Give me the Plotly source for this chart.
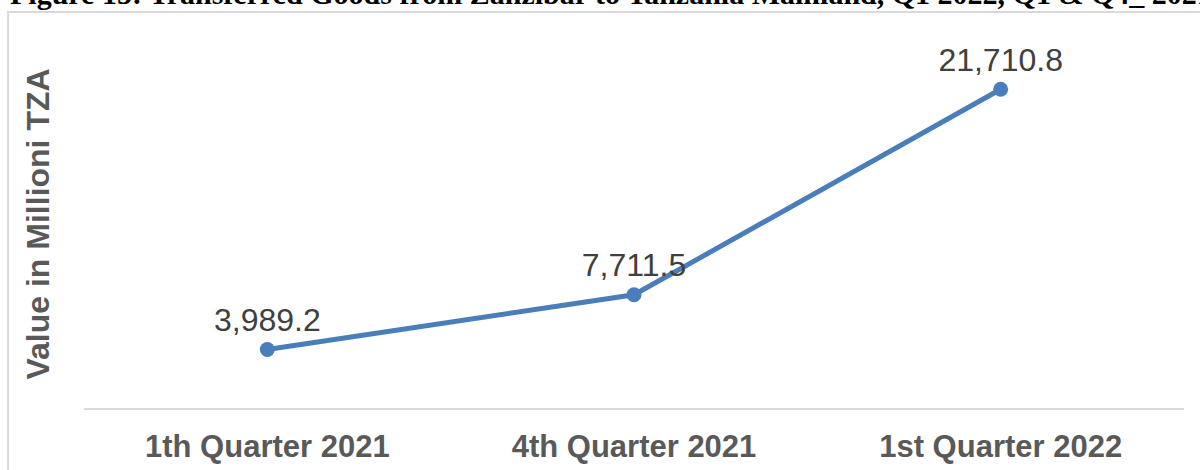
import plotly.graph_objects as go

quarters = ['1th Quarter 2021', '4th Quarter 2021', '1st Quarter 2022']
values = [3989.2, 7711.5, 21710.8]
labels = ['3,989.2', '7,711.5', '21,710.8']

title_text = 'Figure 15: Transferred Goods from Zanzibar to Tanzania Mainland, Q1 2022, Q1 & Q4_ 2021'

fig = go.Figure()

fig.add_trace(go.Scatter(
    x=quarters,
    y=values,
    mode='lines+markers+text',
    text=labels,
    textposition='top center',
    textfont=dict(family='Liberation Sans, Arial, sans-serif', size=32, color='#404040'),
    line=dict(color='#4a7ebb', width=5),
    marker=dict(size=15, color='#4a7ebb'),
    cliponaxis=False,
    hoverinfo='x+y'
))

# chart frame (the original is cropped, so it runs off the right and bottom)
fig.add_shape(type='rect', xref='paper', yref='paper',
              x0=-0.069, x1=1.3, y0=-0.4, y1=1.079,
              line=dict(color='#d9d9d9', width=2), fillcolor='rgba(0,0,0,0)', layer='below')

# caption sits above the frame and is cut by the top edge, as in the source
fig.add_annotation(
    text='<b>' + title_text + '</b>',
    xref='paper', yref='paper', x=-0.069, y=1.079, xanchor='left', yanchor='bottom',
    showarrow=False,
    font=dict(family='Liberation Serif, Times New Roman, serif', size=30, color='black')
)

fig.add_annotation(
    text='<b>Value in Millioni TZA</b>',
    xref='paper', yref='paper', x=-0.0427, y=0.5, xanchor='center', yanchor='middle',
    textangle=-90, showarrow=False,
    font=dict(family='Liberation Sans, Arial, sans-serif', size=32, color='#595959')
)

fig.update_layout(
    width=1200,
    height=470,
    margin=dict(l=84, r=16, t=41, b=62),
    plot_bgcolor='white',
    paper_bgcolor='white',
    showlegend=False,
    xaxis=dict(
        range=[-0.5, 2.5],
        automargin=False,
        showgrid=False,
        showline=True,
        linecolor='#d9d9d9',
        linewidth=2,
        ticks='',
        ticklabelstandoff=10,
        tickfont=dict(family='Liberation Sans, Arial, sans-serif', size=31, color='#595959',
                      weight='bold'),
        fixedrange=True
    ),
    yaxis=dict(
        range=[0, 25000],
        automargin=False,
        showgrid=False,
        zeroline=False,
        showticklabels=False,
        ticks='',
        fixedrange=True
    )
)

fig.write_html('out.html', config={'displayModeBar': False},
               post_script="document.body.style.margin='0';document.body.style.overflow='hidden';")
